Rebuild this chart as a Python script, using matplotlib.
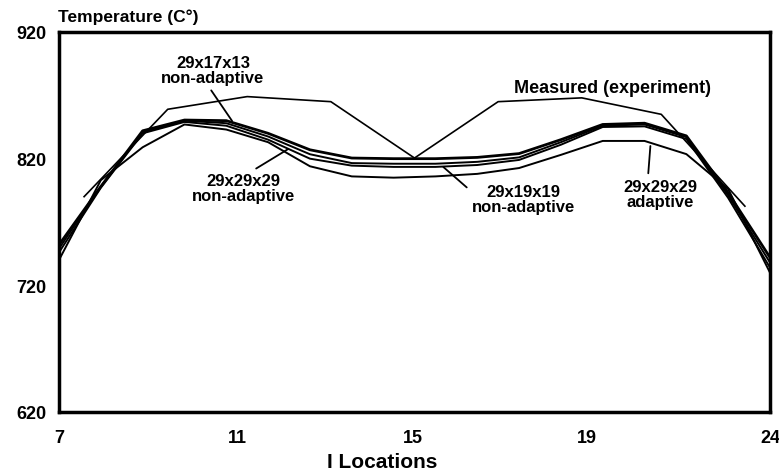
import numpy as np
import matplotlib.pyplot as plt

plt.rcParams['font.family'] = ['Liberation Sans', 'DejaVu Sans']
plt.rcParams['font.weight'] = 'bold'

# I locations of the computed profiles
i_loc = np.arange(7, 25)

# computed temperatures (C) for each grid
t_17x13 = [752, 798, 842, 850.5, 850, 840, 827, 820.5, 820, 820, 821, 824, 835, 847, 848, 838, 793, 742]
t_29_non = [749, 798, 841, 850, 848, 837.5, 823.5, 816.5, 816, 816, 817.5, 821, 833, 846, 847, 837, 791, 738]
t_19x19 = [746, 797, 840, 849, 846, 835, 820, 814.5, 813.5, 813.5, 815, 819, 831, 845, 845.5, 835.5, 789, 734]
t_29_adapt = [740, 803, 829, 847, 843, 833, 814, 806, 805, 806, 808, 812.6, 823, 834, 834, 823.6, 796, 730]

# measured (experiment)
meas_loc = [7.6, 9.6, 11.5, 13.5, 15.5, 17.5, 19.5, 21.4, 23.4]
meas_t = [790, 859, 869, 865, 820.5, 865, 868, 855, 782.5]

# tick labels sit a little off their nominal spots in the source figure
xtick_pos = [7, 11.26, 15.47, 19.63, 24]
xtick_lab = ['7', '11', '15', '19', '24']
ytick_pos = [620, 720, 820, 920]

fig = plt.figure(figsize=(7.79, 4.77), dpi=100)
ax = fig.add_axes([59 / 779, 1 - 413 / 477, 711 / 779, 380 / 477])

ax.plot(meas_loc, meas_t, color='black', lw=1.2)
ax.plot(i_loc, t_29_adapt, color='black', lw=1.4)
ax.plot(i_loc, t_19x19, color='black', lw=1.4)
ax.plot(i_loc, t_29_non, color='black', lw=1.4)
ax.plot(i_loc, t_17x13, color='black', lw=2.0)

ax.set_xlim(7, 24)
ax.set_ylim(620, 920)
ax.set_xticks(xtick_pos)
ax.set_xticklabels(xtick_lab)
ax.set_yticks(ytick_pos)
ax.tick_params(length=0, labelsize=13)
ax.tick_params(axis='x', pad=12)
ax.tick_params(axis='y', pad=9)
for s in ax.spines.values():
    s.set_linewidth(2.5)

ax.set_xlabel('I Locations', fontsize=15, fontweight='bold')
ax.xaxis.set_label_coords(0.454, -0.105)
fig.text(58 / 779, 1 - 22 / 477, 'Temperature (C°)', fontsize=12.5,
         fontweight='bold', va='baseline', ha='left')

# curve labels with pointer lines
lab_kw = dict(fontsize=12, fontweight='bold', ha='center', va='center', linespacing=1.05)
ax.annotate('29x17x13\nnon-adaptive', xy=(11.14, 849.7), xytext=(10.68, 890),
            arrowprops=dict(arrowstyle='-', lw=1.3, color='black', relpos=(0.45, 0.0),
                            shrinkA=2, shrinkB=0), **lab_kw)
ax.annotate('29x29x29\nnon-adaptive', xy=(12.48, 827.6), xytext=(11.4, 796.8),
            arrowprops=dict(arrowstyle='-', lw=1.3, color='black', relpos=(0.56, 1.0),
                            shrinkA=2, shrinkB=0), **lab_kw)
ax.annotate('29x19x19\nnon-adaptive', xy=(16.19, 813.4), xytext=(18.1, 788),
            arrowprops=dict(arrowstyle='-', lw=1.3, color='black', relpos=(0.05, 0.6),
                            shrinkA=2, shrinkB=0), **lab_kw)
ax.annotate('29x29x29\nadaptive', xy=(21.14, 830), xytext=(21.38, 792),
            arrowprops=dict(arrowstyle='-', lw=1.3, color='black', relpos=(0.33, 1.0),
                            shrinkA=2, shrinkB=0), **lab_kw)
ax.text(20.23, 876.5, 'Measured (experiment)', fontsize=13, fontweight='bold',
        ha='center', va='center')

fig.savefig('out.png', dpi=100)
